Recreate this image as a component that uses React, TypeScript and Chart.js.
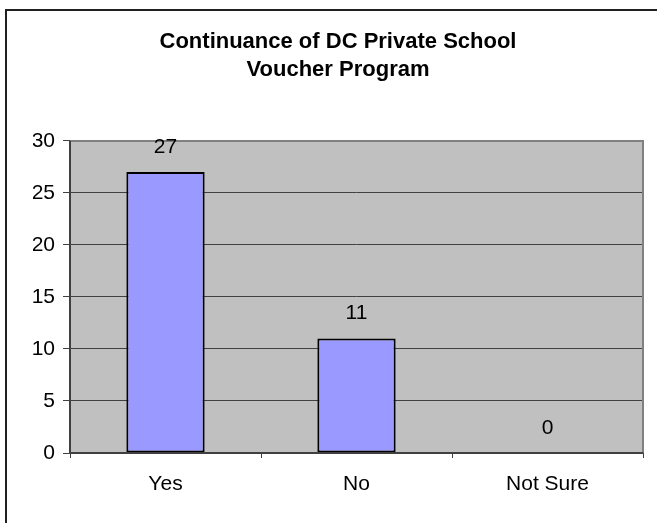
import React, { useEffect, useRef } from "react";
import { Chart, registerables } from "chart.js";

Chart.register(...registerables);

const categories = ["Yes", "No", "Not Sure"];
const responses = [27, 11, 0];
const yTicks = [0, 5, 10, 15, 20, 25, 30];
const titleLines = ["Continuance of DC Private School", "Voucher Program"];

const FONT = "'Liberation Sans', Arial, sans-serif";

const framePlugin = {
  id: "frame",
  beforeDraw(chart: any) {
    const { ctx, chartArea } = chart;
    ctx.save();
    ctx.fillStyle = "#ffffff";
    ctx.fillRect(0, 0, chart.width, chart.height);
    ctx.strokeStyle = "#202020";
    ctx.lineWidth = 2;
    ctx.beginPath();
    ctx.moveTo(6, chart.height + 5);
    ctx.lineTo(6, 10);
    ctx.lineTo(chart.width + 5, 10);
    ctx.stroke();
    ctx.fillStyle = "#c0c0c0";
    ctx.fillRect(chartArea.left, chartArea.top, chartArea.right - chartArea.left, chartArea.bottom - chartArea.top);
    ctx.restore();
  },
  afterDatasetsDraw(chart: any) {
    const { ctx, chartArea } = chart;
    ctx.save();
    ctx.strokeStyle = "#808080";
    ctx.lineWidth = 2;
    ctx.beginPath();
    ctx.moveTo(chartArea.left, chartArea.top);
    ctx.lineTo(chartArea.right, chartArea.top);
    ctx.lineTo(chartArea.right, chartArea.bottom);
    ctx.stroke();
    ctx.strokeStyle = "#404040";
    ctx.beginPath();
    ctx.moveTo(chartArea.left, chartArea.top);
    ctx.lineTo(chartArea.left, chartArea.bottom);
    ctx.lineTo(chartArea.right, chartArea.bottom);
    ctx.stroke();
    const meta = chart.getDatasetMeta(0);
    ctx.fillStyle = "#000000";
    ctx.font = `21px ${FONT}`;
    ctx.textAlign = "center";
    ctx.textBaseline = "middle";
    meta.data.forEach((el: any, i: number) => {
      const v = chart.data.datasets[0].data[i];
      ctx.fillText(String(v), el.x, el.y - 25);
    });
    ctx.restore();
  },
};

export default function App() {
  const ref = useRef<HTMLCanvasElement | null>(null);
  useEffect(() => {
    if (!ref.current) return;
    const chart = new Chart(ref.current, {
      type: "bar",
      data: {
        labels: categories,
        datasets: [
          {
            data: responses,
            backgroundColor: "#9999ff",
            borderColor: "#000000",
            borderWidth: 2,
            borderSkipped: false,
            barPercentage: 0.82,
            categoryPercentage: 0.5,
          },
        ],
      },
      options: {
        responsive: false,
        animation: false,
        devicePixelRatio: 1,
        layout: { padding: { left: 33, right: 14, top: 0, bottom: 0 } },
        plugins: {
          legend: { display: false },
          tooltip: { enabled: false },
          title: {
            display: true,
            text: titleLines,
            color: "#000000",
            font: { family: FONT, size: 22, weight: "bold", lineHeight: 1.27 },
            padding: { top: 28, bottom: 57 },
          },
        },
        scales: {
          x: {
            offset: true,
            grid: {
              display: true,
              drawOnChartArea: false,
              drawTicks: true,
              tickLength: 5,
              color: "#404040",
              lineWidth: 1,
              offset: true,
            },
            border: { display: false },
            ticks: {
              color: "#000000",
              font: { family: FONT, size: 21 },
              padding: 14,
              maxRotation: 0,
            },
            afterFit: (s: any) => {
              s.height = 70;
            },
          },
          y: {
            min: 0,
            max: 30,
            afterBuildTicks: (s: any) => {
              s.ticks = yTicks.map((v) => ({ value: v }));
            },
            grid: {
              color: "#404040",
              lineWidth: 1,
              tickLength: 7,
              drawTicks: true,
            },
            border: { display: false },
            ticks: {
              color: "#000000",
              font: { family: FONT, size: 21 },
              padding: 8,
            },
            afterFit: (s: any) => {
              s.width = 37;
            },
          },
        },
      },
      plugins: [framePlugin],
    });
    return () => chart.destroy();
  }, []);
  return (
    <div style={{ position: "absolute", left: 0, top: 0, width: 657, height: 523 }}>
      <canvas ref={ref} width={657} height={523} />
    </div>
  );
}
